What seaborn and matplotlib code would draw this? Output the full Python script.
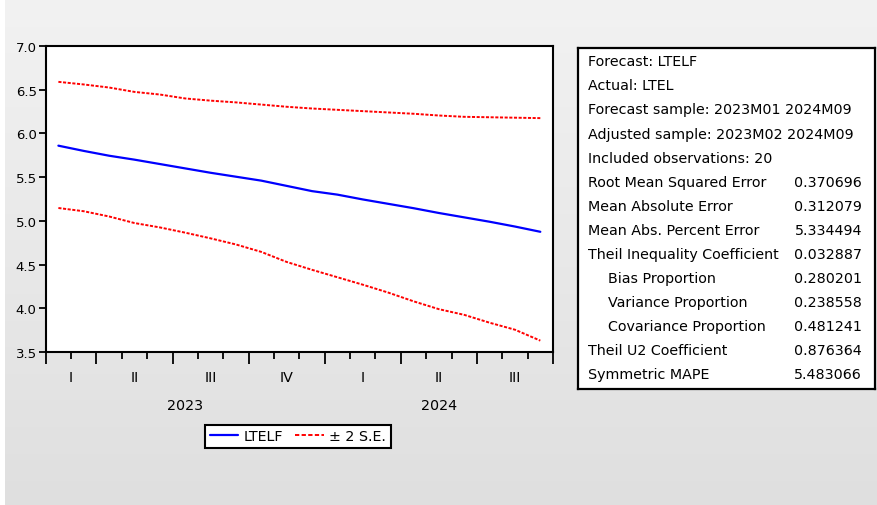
import numpy as np
import pandas as pd
import matplotlib
matplotlib.use("Agg")
import matplotlib.pyplot as plt
from matplotlib.lines import Line2D
import seaborn as sns

# ---------------- data ----------------
months = ["2023M02", "2023M03", "2023M04", "2023M05", "2023M06", "2023M07",
          "2023M08", "2023M09", "2023M10", "2023M11", "2023M12", "2024M01",
          "2024M02", "2024M03", "2024M04", "2024M05", "2024M06", "2024M07",
          "2024M08", "2024M09"]
ltelf = [5.86, 5.80, 5.745, 5.70, 5.65, 5.60, 5.55, 5.505, 5.46, 5.40,
         5.34, 5.30, 5.245, 5.195, 5.145, 5.09, 5.04, 4.99, 4.935, 4.875]
upper_se = [6.59, 6.56, 6.525, 6.475, 6.445, 6.40, 6.375, 6.355, 6.33, 6.305,
            6.285, 6.27, 6.255, 6.24, 6.225, 6.205, 6.19, 6.185, 6.18, 6.175]
lower_se = [5.147, 5.11, 5.05, 4.975, 4.925, 4.865, 4.80, 4.73, 4.645, 4.53,
            4.44, 4.355, 4.27, 4.18, 4.08, 3.99, 3.925, 3.835, 3.755, 3.63]

quarter_labels = ["I", "II", "III", "IV", "I", "II", "III"]
quarter_bounds = [-0.5, 1.5, 4.5, 7.5, 10.5, 13.5, 16.5, 19.5]
year_labels = ["2023", "2024"]
year_bounds = [-0.5, 10.5, 19.5]
y_ticks = [3.5, 4.0, 4.5, 5.0, 5.5, 6.0, 6.5, 7.0]

stat_header = ["Forecast: LTELF", "Actual: LTEL",
               "Forecast sample: 2023M01 2024M09",
               "Adjusted sample: 2023M02 2024M09",
               "Included observations: 20"]
stat_names = ["Root Mean Squared Error", "Mean Absolute Error",
              "Mean Abs. Percent Error", "Theil Inequality Coefficient",
              "   Bias Proportion", "   Variance Proportion",
              "   Covariance Proportion", "Theil U2 Coefficient",
              "Symmetric MAPE"]
stat_values = ["0.370696", "0.312079", "5.334494", "0.032887", "0.280201",
               "0.238558", "0.481241", "0.876364", "5.483066"]

# ---------------- figure ----------------
sns.set_theme(style="white")
plt.rcParams["font.family"] = ["DejaVu Sans"]
plt.rcParams["text.color"] = "black"
plt.rcParams["axes.labelcolor"] = "black"
plt.rcParams["xtick.color"] = "black"
plt.rcParams["ytick.color"] = "black"
FS = 10.3

W, H = 878, 506
fig = plt.figure(figsize=(W / 100, H / 100), dpi=100)

# background gradient
bg = fig.add_axes([0, 0, 1, 1], zorder=-10)
grad = np.linspace(0.949, 0.875, 256).reshape(-1, 1)
bg.imshow(np.dstack([grad, grad, grad]), aspect="auto", extent=[0, W, H, 0])
bg.add_patch(plt.Rectangle((0, 0), 5, H, color="white", lw=0))
bg.set_xlim(0, W)
bg.set_ylim(H, 0)
bg.axis("off")

def px_axes(x0, y0, x1, y1, **kw):
    return fig.add_axes([x0 / W, 1 - y1 / H, (x1 - x0) / W, (y1 - y0) / H], **kw)

ax = px_axes(45.7, 47, 553, 353)
ax.set_facecolor("white")

df = pd.DataFrame({"month": months, "LTELF": ltelf,
                   "upper": upper_se, "lower": lower_se})
df["t"] = np.arange(len(df))

sns.lineplot(data=df, x="t", y="LTELF", color="#0000ff", lw=1.6, ax=ax)
sns.lineplot(data=df, x="t", y="upper", color="#ff0000", lw=1.4,
             linestyle=(0, (1.6, 0.8)), ax=ax)
sns.lineplot(data=df, x="t", y="lower", color="#ff0000", lw=1.4,
             linestyle=(0, (1.6, 0.8)), ax=ax)

ax.set_xlim(-0.5, len(months) - 0.5)
ax.set_ylim(3.5, 7.0)
ax.set_xlabel("")
ax.set_ylabel("")
for s in ax.spines.values():
    s.set_visible(True)
    s.set_color("black")
    s.set_linewidth(1.5)

ax.set_yticks(y_ticks)
ax.set_yticklabels([f"{v:.1f}" for v in y_ticks], fontsize=9.5)
ax.tick_params(axis="y", direction="out", length=5, width=1.3, pad=1.5,
               left=True, colors="black")

ax.set_xticks(quarter_bounds)
ax.set_xticklabels([])
ax.set_xticks(np.arange(-0.5, len(months), 1.0), minor=True)
ax.tick_params(axis="x", which="major", direction="out", length=8.5,
               width=1.3, bottom=True, color="black")
ax.tick_params(axis="x", which="minor", direction="out", length=5,
               width=1.3, bottom=True, color="black")

for lab, a, b in zip(quarter_labels, quarter_bounds[:-1], quarter_bounds[1:]):
    ax.annotate(lab, xy=((a + b) / 2, 0), xycoords=("data", "axes fraction"),
                xytext=(0, -18), textcoords="offset points",
                ha="center", va="center", fontsize=FS, color="black")
for lab, a, b in zip(year_labels, year_bounds[:-1], year_bounds[1:]):
    ax.annotate(lab, xy=((a + b) / 2, 0), xycoords=("data", "axes fraction"),
                xytext=(0, -38), textcoords="offset points",
                ha="center", va="center", fontsize=FS, color="black")

handles = [Line2D([], [], color="#0000ff", lw=1.6),
           Line2D([], [], color="#ff0000", lw=1.4, linestyle=(0, (2.2, 1.2)))]
leg = fig.legend(handles, ["LTELF", "\u00b1 2 S.E."], ncol=2,
                 loc="center", bbox_to_anchor=(298 / W, 1 - 437.5 / H),
                 fontsize=FS, frameon=True, fancybox=False,
                 edgecolor="black", handlelength=2.0, handletextpad=0.4,
                 columnspacing=0.8, borderpad=0.3, borderaxespad=0,
                 labelcolor="black")
leg.get_frame().set_linewidth(1.5)
leg.get_frame().set_facecolor("white")
leg.get_frame().set_alpha(1)

# statistics box
box = px_axes(578.5, 49.3, 875, 389.5)
box.set_facecolor("white")
box.set_xlim(578.5, 875)
box.set_ylim(389.5, 49.3)
box.set_xticks([])
box.set_yticks([])
for s in box.spines.values():
    s.set_visible(True)
    s.set_color("black")
    s.set_linewidth(1.6)

y0, dy = 62.3, 24.07
lines = stat_header + stat_names
for i, txt in enumerate(lines):
    y = y0 + i * dy
    x = 588
    if txt.startswith("   "):
        x = 608
        txt = txt.strip()
    box.text(x, y, txt, ha="left", va="center", fontsize=FS, color="black")
for j, val in enumerate(stat_values):
    y = y0 + (len(stat_header) + j) * dy
    box.text(862, y, val, ha="right", va="center", fontsize=FS, color="black")

fig.savefig("out.png", dpi=100)
